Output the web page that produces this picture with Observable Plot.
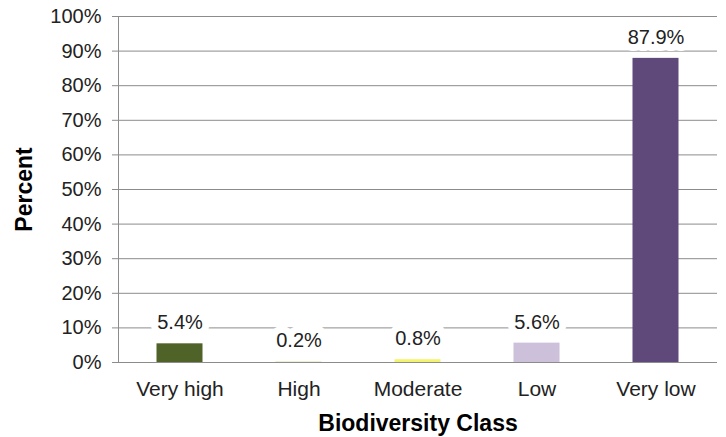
<!DOCTYPE html>
<html>
<head>
<meta charset="utf-8">
<script src="https://cdn.jsdelivr.net/npm/d3@7"></script>
<script src="https://cdn.jsdelivr.net/npm/@observablehq/plot@0.6"></script>
<style>
  html, body { margin: 0; padding: 0; background: #fff; }
  #chart svg { display: block; }
</style>
</head>
<body>
<div id="chart"></div>
<script>
const classes = ["Very high", "High", "Moderate", "Low", "Very low"];
const percents = [5.4, 0.2, 0.8, 5.6, 87.9];
const barColors = ["#4f6228", "#e4e9c0", "#f4f46a", "#ccc0da", "#5f497a"];
const yTicks = [0, 10, 20, 30, 40, 50, 60, 70, 80, 90, 100];
const yTitle = "Percent";
const xTitle = "Biodiversity Class";

const data = classes.map((c, i) => ({cls: c, pct: percents[i]}));

const font = "'Liberation Sans', Arial, sans-serif";

const chart = Plot.plot({
  width: 726,
  height: 437,
  marginLeft: 118,
  marginRight: 9,
  marginTop: 16,
  marginBottom: 75,
  style: {fontFamily: font, fontSize: "20px", color: "#222", background: "#fff"},
  x: {domain: classes, padding: 0, label: null},
  y: {domain: [0, 100], label: null},
  color: {domain: classes, range: barColors},
  marks: [
    Plot.gridY(yTicks, {stroke: "#8c8c8c", strokeOpacity: 1}),
    Plot.barY(data, {x: "cls", y: "pct", fill: "cls", insetLeft: 36.5, insetRight: 36.5}),
    Plot.ruleY([0], {stroke: "#8c8c8c"}),
    Plot.frame({anchor: "left", stroke: "#8c8c8c"}),
    Plot.axisY(yTicks, {
      tickFormat: d => d + "%",
      tickSize: 6,
      tickPadding: 11,
      stroke: "#8c8c8c",
      fill: "#222",
      fontSize: 20,
      label: null
    }),
    Plot.axisX({
      tickSize: 0,
      tickPadding: 19,
      fill: "#222",
      fontSize: 21,
      label: null
    }),
    Plot.text(data, {
      x: "cls",
      y: "pct",
      text: d => d.pct.toFixed(1) + "%",
      dy: -21,
      fontSize: 20,
      fill: "#222",
      stroke: "white",
      strokeWidth: 14,
      strokeLinejoin: "round",
      paintOrder: "stroke"
    }),
    Plot.text([yTitle], {
      frameAnchor: "left",
      dx: -94,
      rotate: -90,
      textAnchor: "middle",
      lineAnchor: "middle",
      fontWeight: "bold",
      fontSize: 23,
      fill: "#000"
    }),
    Plot.text([xTitle], {
      frameAnchor: "bottom",
      dy: 61,
      textAnchor: "middle",
      lineAnchor: "middle",
      fontWeight: "bold",
      fontSize: 23,
      fill: "#000"
    })
  ]
});

document.getElementById("chart").appendChild(chart);
</script>
</body>
</html>
